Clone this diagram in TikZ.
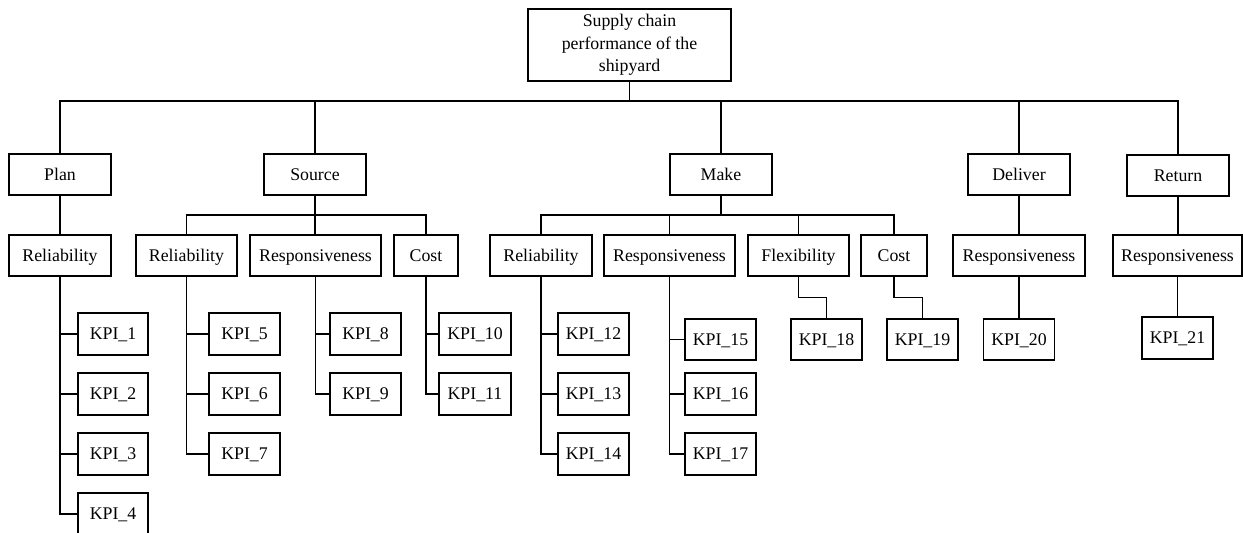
\documentclass[tikz,border=0pt]{standalone}
\usepackage{fontspec}
\setmainfont{Liberation Serif}
\tikzset{
  bx/.style={draw, line width=0.6pt, inner sep=0pt, align=center, font=\fontsize{8.9}{11.25}\selectfont},
  one/.style={text height=6.1pt, text depth=0.3pt},
  ln/.style={line width=0.6pt}
}
\newcommand{\kbox}[6]{\node[bx, one, minimum width={(#4-#2)*0.5pt}, minimum height={(#5-#3)*0.5pt}] (#1) at ({(#2+#4)/2},{(#3+#5)/2}) {#6};}
\begin{document}
\begin{tikzpicture}[x=0.5pt,y=-0.5pt]
\useasboundingbox (0,0) rectangle (1243,533);
% level 1
\node[bx, minimum width=101.5pt, minimum height=36pt] (top) at (629.5,45) {Supply chain\\performance of the\\shipyard};
% level 2
\kbox{plan}{9}{154}{111}{195}{Plan}
\kbox{src}{264}{154}{366}{195}{Source}
\kbox{make}{670}{154}{772}{195}{Make}
\kbox{dlv}{968}{154}{1070}{195}{Deliver}
\kbox{ret}{1127}{155}{1229}{196}{Return}
% level 3
\kbox{prel}{9}{235}{111}{276}{Reliability}
\kbox{srel}{136}{235}{237}{276}{Reliability}
\kbox{sresp}{250}{235}{381}{276}{Responsiveness}
\kbox{scost}{394}{235}{458}{276}{Cost}
\kbox{mrel}{490}{235}{592}{276}{Reliability}
\kbox{mresp}{604}{235}{735}{276}{Responsiveness}
\kbox{mflex}{748}{235}{849}{276}{Flexibility}
\kbox{mcost}{861}{235}{927}{276}{Cost}
\kbox{dresp}{953}{235}{1085}{276}{Responsiveness}
\kbox{rresp}{1113}{235}{1242}{276}{Responsiveness}
% KPIs
\kbox{k1}{78}{313}{148}{355}{KPI\_1}
\kbox{k2}{78}{373}{148}{415}{KPI\_2}
\kbox{k3}{78}{433}{148}{475}{KPI\_3}
\kbox{k4}{78}{493}{148}{535}{KPI\_4}
\kbox{k5}{209}{313}{280}{355}{KPI\_5}
\kbox{k6}{209}{373}{280}{415}{KPI\_6}
\kbox{k7}{209}{433}{280}{475}{KPI\_7}
\kbox{k8}{330}{313}{401}{355}{KPI\_8}
\kbox{k9}{330}{373}{401}{415}{KPI\_9}
\kbox{k10}{439}{313}{511}{355}{KPI\_10}
\kbox{k11}{439}{373}{511}{415}{KPI\_11}
\kbox{k12}{558}{313}{629}{355}{KPI\_12}
\kbox{k13}{558}{373}{629}{415}{KPI\_13}
\kbox{k14}{558}{433}{629}{475}{KPI\_14}
\kbox{k15}{685}{319}{756}{360}{KPI\_15}
\kbox{k16}{685}{373}{756}{415}{KPI\_16}
\kbox{k17}{685}{433}{756}{475}{KPI\_17}
\kbox{k18}{791}{319}{862}{360}{KPI\_18}
\kbox{k19}{887}{319}{958}{360}{KPI\_19}
\kbox{k20}{983.5}{319}{1054.5}{360}{KPI\_20}
\kbox{k21}{1142}{317}{1213}{359}{KPI\_21}
% top bus
\coordinate (b0) at (629.5,101);
\draw[ln] (top.south) -- (b0);
\draw[ln] (plan.north) |- (b0) -| (ret.north);
\draw[ln] (src.north) -- (src.north |- b0);
\draw[ln] (make.north) -- (make.north |- b0);
\draw[ln] (dlv.north) -- (dlv.north |- b0);
% plan
\draw[ln] (plan.south) -- (prel.north);
% source bus
\coordinate (sb) at (315,215);
\draw[ln] (src.south) -- (src.south |- sresp.north);
\draw[ln] (srel.north) |- (sb) -| (scost.north);
% make bus
\coordinate (mb) at (721,215);
\draw[ln] (make.south) -- (mb);
\draw[ln] (mrel.north) |- (mb) -| (mcost.north);
\draw[ln] (mresp.north) -- (mresp.north |- mb);
\draw[ln] (mflex.north) -- (mflex.north |- mb);
% deliver, return
\draw[ln] (dlv.south) -- (dlv.south |- dresp.north);
\draw[ln] (ret.south) -- (ret.south |- rresp.north);
% KPI branches
\draw[ln] (prel.south) |- (k4.west);
\foreach \k in {k1,k2,k3} \draw[ln] (\k.west) -- (\k.west -| prel.south);
\draw[ln] (srel.south) |- (k7.west);
\foreach \k in {k5,k6} \draw[ln] (\k.west) -- (\k.west -| srel.south);
\draw[ln] (sresp.south) |- (k9.west);
\draw[ln] (k8.west) -- (k8.west -| sresp.south);
\draw[ln] (scost.south) |- (k11.west);
\draw[ln] (k10.west) -- (k10.west -| scost.south);
\draw[ln] (mrel.south) |- (k14.west);
\foreach \k in {k12,k13} \draw[ln] (\k.west) -- (\k.west -| mrel.south);
\draw[ln] (mresp.south) |- (k17.west);
\foreach \k in {k15,k16} \draw[ln] (\k.west) -- (\k.west -| mresp.south);
\draw[ln] (mflex.south) -- ++(0,21) -| (k18.north);
\draw[ln] (mcost.south) -- ++(0,21) -| (k19.north);
\draw[ln] (dresp.south) -- (dresp.south |- k20.north);
\draw[ln] (rresp.south) -- (rresp.south |- k21.north);
\end{tikzpicture}
\end{document}
